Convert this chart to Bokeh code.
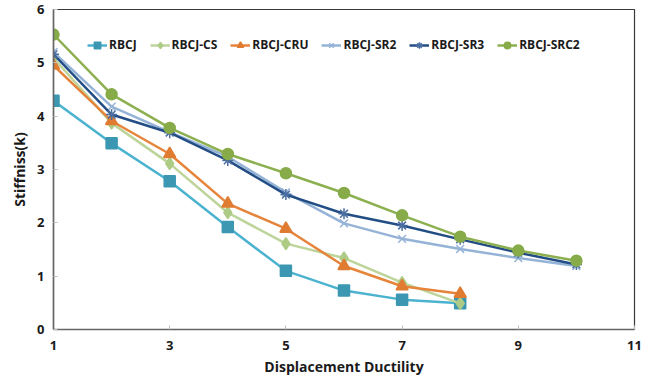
from bokeh.plotting import figure
from bokeh.models import Legend, LegendItem, Range1d, FixedTicker
from bokeh.embed import file_html
from bokeh.resources import INLINE

ductility = [1, 2, 3, 4, 5, 6, 7, 8, 9, 10]
rbcj = [4.29, 3.49, 2.78, 1.92, 1.10, 0.73, 0.56, 0.49]
rbcj_cs = [5.09, 3.87, 3.11, 2.19, 1.61, 1.34, 0.88, 0.49]
rbcj_cru = [4.95, 3.91, 3.29, 2.36, 1.89, 1.19, 0.81, 0.67]
rbcj_sr2 = [5.20, 4.18, 3.70, 3.24, 2.57, 1.99, 1.70, 1.51, 1.34, 1.19]
rbcj_sr3 = [5.16, 4.03, 3.69, 3.17, 2.53, 2.17, 1.95, 1.69, 1.44, 1.22]
rbcj_src2 = [5.53, 4.41, 3.78, 3.29, 2.93, 2.56, 2.14, 1.74, 1.48, 1.29]
x_ticks = [1, 3, 5, 7, 9, 11]
y_ticks = [0, 1, 2, 3, 4, 5, 6]

FONT = "Open Sans"

p = figure(width=648, height=378, output_backend="svg", toolbar_location=None,
           x_range=Range1d(1, 11), y_range=Range1d(0, 6),
           min_border_left=53, min_border_right=14, min_border_top=9, min_border_bottom=49)
p.background_fill_color = "white"
p.border_fill_color = "white"
p.outline_line_color = "#3a3a3a"
p.outline_line_width = 1.2
p.xgrid.visible = False
p.ygrid.visible = False

for ax in (p.xaxis[0], p.yaxis[0]):
    ax.axis_line_color = "#666666"
    ax.axis_line_width = 1.5
    ax.major_tick_in = 4
    ax.major_tick_out = 0
    ax.major_tick_line_color = "#bfbfbf"
    ax.minor_tick_line_color = None
    ax.major_label_text_font = FONT
    ax.major_label_text_font_style = "bold"
    ax.major_label_text_font_size = "13px"
    ax.major_label_text_color = "#1a1a1a"
    ax.axis_label_text_font = FONT
    ax.axis_label_text_font_style = "bold"
    ax.axis_label_text_font_size = "14px"
    ax.axis_label_text_color = "#1a1a1a"

p.xaxis.ticker = FixedTicker(ticks=x_ticks)
p.yaxis.ticker = FixedTicker(ticks=y_ticks)
p.xaxis.major_label_standoff = 11
p.yaxis.major_label_standoff = 9
p.xaxis.axis_label = "Displacement Ductility"
p.yaxis.axis_label = "Stiffniss(k)"
p.xaxis.axis_label_standoff = 4
p.yaxis.axis_label_standoff = 5

series = [
    ("RBCJ", rbcj, "#4BB3D0", "#3C97B2", "square", 11),
    ("RBCJ-CS", rbcj_cs, "#BDD49A", "#AECB86", "diamond", 12),
    ("RBCJ-CRU", rbcj_cru, "#E5843A", "#E07C32", "triangle", 12),
    ("RBCJ-SR2", rbcj_sr2, "#95B3D7", "#95B3D7", "x", 11),
    ("RBCJ-SR3", rbcj_sr3, "#234E85", "#4A6EA0", "asterisk", 11),
    ("RBCJ-SRC2", rbcj_src2, "#8CB050", "#86AB48", "circle", 11),
]

items = []
for name, vals, lc, mc, marker, size in series:
    xs = ductility[:len(vals)]
    r1 = p.line(xs, vals, line_color=lc, line_width=2.5)
    r2 = p.scatter(xs, vals, marker=marker, size=size, fill_color=mc,
                   line_color=mc, line_width=1.5)
    items.append(LegendItem(label=name, renderers=[r1, r2]))

legend = Legend(items=items, orientation="horizontal", location=(34, 276),
                border_line_color=None, background_fill_alpha=0,
                label_text_font=FONT, label_text_font_style="bold",
                label_text_font_size="12px", label_text_color="#1a1a1a",
                glyph_width=20, glyph_height=16, label_standoff=2,
                spacing=13, padding=0, margin=0, label_height=16)
p.add_layout(legend, "center")

open("out.html", "w").write(file_html(p, INLINE))
